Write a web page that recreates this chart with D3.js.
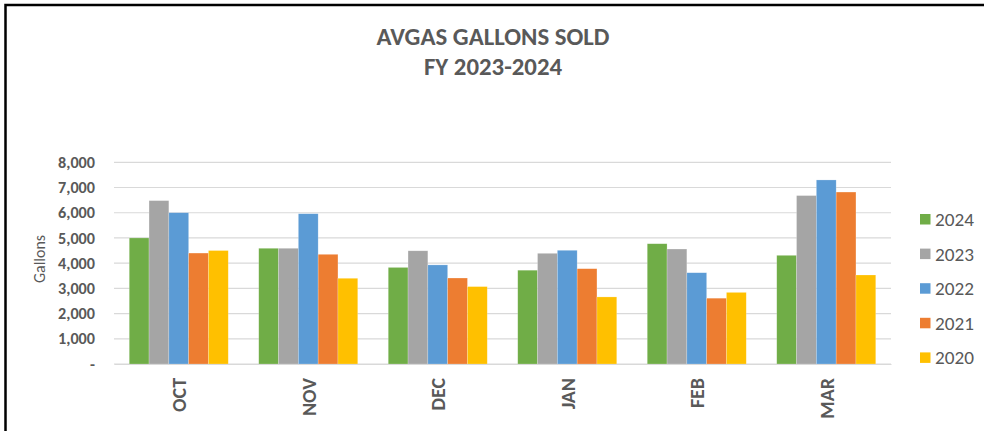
<!DOCTYPE html>
<html><head><meta charset="utf-8">
<script src="https://cdn.jsdelivr.net/npm/d3@7"></script>
<style>body{margin:0;background:#fff}svg{display:block}</style>
</head><body>
<svg id="c" width="984" height="431"></svg>
<script>
const months = ["OCT","NOV","DEC","JAN","FEB","MAR"];
const seriesNames = ["2024","2023","2022","2021","2020"];
const v2024 = [5000,4590,3830,3720,4770,4310];
const v2023 = [6480,4590,4490,4390,4560,6680];
const v2022 = [6000,5960,3930,4510,3620,7300];
const v2021 = [4400,4350,3410,3780,2610,6820];
const v2020 = [4500,3400,3070,2660,2840,3530];
const yTicks = [0,1000,2000,3000,4000,5000,6000,7000,8000];
const colors = ["#70AD47","#A5A5A5","#5B9BD5","#ED7D31","#FFC000"];
const titleLines = ["AVGAS GALLONS SOLD","FY 2023-2024"];
const yTitle = "Gallons";

(function(){
const seriesVals = [v2024,v2023,v2022,v2021,v2020];
const svg = d3.select("#c");
const txt = "#595959";
const font = "Carlito, Calibri, Lato, sans-serif";

// scale a selection's font size so that a sample node reaches the target width
function fit(sel, node, target){
  const w = node.getComputedTextLength();
  const fs = parseFloat(d3.select(node).attr("font-size"));
  sel.attr("font-size", fs*target/w);
}

const pL = 114, pR = 891, pT = 162.3, pB = 364;
const x0 = d3.scaleBand().domain(months).range([pL,pR]).paddingInner(0.2355).paddingOuter(0.2355/2);
const x1 = d3.scaleBand().domain(seriesNames).range([0,x0.bandwidth()]);
const y = d3.scaleLinear().domain([0,8000]).range([pB,pT]);

// border
svg.append("path").attr("d","M5.5,440 L5.5,5 L990,5").attr("fill","none").attr("stroke","#000").attr("stroke-width",2.5);

// gridlines
svg.append("g").selectAll("line").data(yTicks).join("line")
  .attr("x1",pL).attr("x2",pR).attr("y1",d=>y(d)).attr("y2",d=>y(d))
  .attr("stroke","#D9D9D9").attr("stroke-width",1.2);

// y axis labels
const yAxis = d3.axisLeft(y).tickValues(yTicks).tickSize(0).tickPadding(0)
  .tickFormat(d=> d===0 ? "-" : d3.format(",")(d));
const ya = svg.append("g").attr("transform","translate(95,0)").call(yAxis);
ya.select(".domain").remove();
const yt = ya.selectAll("text").attr("fill",txt).attr("font-family",font).attr("font-size",14).attr("font-weight","bold");
fit(yt, yt.nodes()[yt.size()-1], 37);

// bars
const groups = svg.append("g").selectAll("g").data(months).join("g")
  .attr("transform",d=>`translate(${x0(d)},0)`);
groups.selectAll("rect").data((m,i)=>seriesNames.map((s,j)=>({s,j,v:seriesVals[j][i]}))).join("rect")
  .attr("x",d=>x1(d.s)).attr("width",x1.bandwidth())
  .attr("y",d=>y(d.v)).attr("height",d=>y(0)-y(d.v))
  .attr("fill",d=>colors[d.j]).attr("stroke","#fff").attr("stroke-opacity",0.35).attr("stroke-width",0.6);

// x axis
const xa = svg.append("g").attr("transform",`translate(0,${pB})`).call(d3.axisBottom(x0).tickSize(0).tickPadding(0));
xa.select(".domain").attr("stroke","#D9D9D9").attr("stroke-width",1.2);
const xt = xa.selectAll("text").attr("fill",txt).attr("font-family",font).attr("font-size",18).attr("font-weight","bold")
  .attr("text-anchor","end").attr("dy",null).attr("y",0)
  .attr("transform","translate(7.5,14) rotate(-90)");
fit(xt, xt.nodes()[0], 34);

// y title
const yl = svg.append("text").attr("transform","translate(45,259) rotate(-90)").attr("text-anchor","middle")
  .attr("fill",txt).attr("font-family",font).attr("font-size",14).text(yTitle);
fit(yl, yl.node(), 48);

// title
const tt = svg.append("g").selectAll("text").data(titleLines).join("text")
  .attr("x",493).attr("y",(d,i)=>45+i*30).attr("text-anchor","middle")
  .attr("fill",txt).attr("font-family",font).attr("font-size",19).attr("font-weight","bold").text(d=>d);
fit(tt, tt.nodes()[0], 233);

// legend
const lg = svg.append("g").selectAll("g").data(seriesNames).join("g")
  .attr("transform",(d,i)=>`translate(920,${219.3+i*34.6})`);
lg.append("rect").attr("x",0).attr("y",-5.3).attr("width",10.5).attr("height",10.5).attr("fill",(d,i)=>colors[i]);
const lt = lg.append("text").attr("x",15).attr("y",0).attr("dy","0.35em").attr("fill",txt)
  .attr("font-family",font).attr("font-size",16).text(d=>d);
fit(lt, lt.nodes()[0], 39);
})();
</script>
</body></html>
